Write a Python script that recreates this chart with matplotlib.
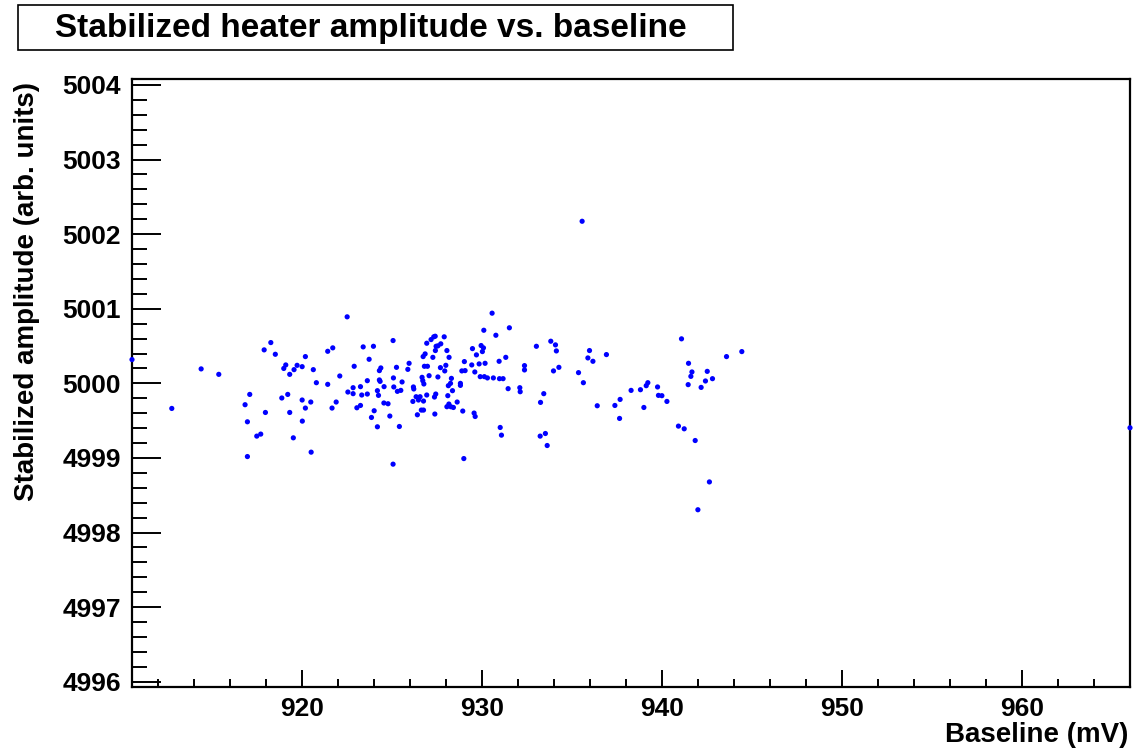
import matplotlib
matplotlib.use("Agg")
import matplotlib.pyplot as plt
from matplotlib.patches import Rectangle
from matplotlib.ticker import MultipleLocator

plt.rcParams['font.family'] = ['Liberation Sans', 'DejaVu Sans']
plt.rcParams['font.weight'] = 'bold'

title = "Stabilized heater amplitude vs. baseline"
xlabel = "Baseline (mV)"
ylabel = "Stabilized amplitude (arb. units)"

baseline = [
    910.57, 912.78, 914.41, 915.39, 916.85, 917.11, 916.98, 916.98, 917.50, 917.72,
    917.91, 918.28, 918.53, 917.98, 919.00, 919.11, 919.33, 919.57, 919.74, 920.02,
    920.20, 920.64, 920.81, 918.89, 919.22, 919.33, 920.02, 920.20, 920.50, 920.03,
    919.53, 920.52, 921.44, 921.72, 921.44, 922.11, 921.68, 921.91, 922.52, 922.56,
    922.91, 922.85, 922.85, 923.06, 923.26, 923.26, 923.33, 923.41, 923.64, 923.64,
    923.74, 923.98, 924.02, 923.87, 924.20, 924.20, 924.26, 924.31, 924.39, 924.31,
    924.35, 924.57, 924.56, 924.79, 924.89, 925.07, 925.07, 925.09, 925.11, 925.26,
    925.31, 925.50, 925.42, 925.57, 925.89, 925.96, 926.17, 926.20, 926.22, 926.35,
    926.42, 926.48, 926.57, 926.64, 926.76, 926.68, 926.72, 926.78, 926.76, 926.74,
    926.85, 926.81, 926.98, 926.94, 926.94, 927.07, 927.18, 927.33, 927.41, 927.28,
    927.37, 927.44, 927.39, 927.42, 927.46, 927.56, 927.72, 927.56, 927.70, 927.91,
    927.94, 928.00, 928.06, 928.18, 928.11, 928.06, 928.17, 928.28, 928.42, 928.14,
    928.26, 928.31, 928.37, 928.63, 928.81, 928.81, 928.94, 929.00, 928.89, 929.07,
    929.03, 929.48, 929.44, 929.57, 929.63, 929.61, 929.70, 929.85, 929.91, 929.96,
    930.09, 930.03, 930.11, 930.18, 930.14, 930.31, 930.57, 930.64, 930.78, 930.96,
    930.98, 931.18, 931.02, 931.09, 931.33, 931.46, 931.53, 932.11, 932.13, 932.37,
    932.37, 933.03, 933.26, 933.44, 933.24, 933.53, 933.63, 933.83, 934.09, 934.14,
    933.98, 934.28, 935.57, 935.98, 935.89, 936.17, 936.92, 935.37, 935.64, 936.41,
    937.39, 937.68, 937.65, 938.29, 938.81, 939.13, 939.22, 939.00, 939.76, 939.81,
    940.00, 940.28, 941.09, 941.48, 941.67, 941.61, 941.46, 942.52, 942.42, 942.81,
    942.18, 943.59, 944.44, 940.92, 941.24, 941.85, 942.64, 942.00, 966.00,
]

amplitude = [
    5000.319, 4999.664, 5000.194, 5000.121, 4999.714, 4999.852, 4999.485, 4999.019, 4999.293, 4999.320,
    5000.449, 5000.547, 5000.390, 4999.610, 5000.200, 5000.247, 5000.121, 5000.184, 5000.242, 5000.224,
    5000.359, 5000.184, 5000.009, 4999.804, 4999.852, 4999.610, 4999.777, 4999.669, 4999.750, 4999.494,
    4999.270, 4999.078, 5000.430, 5000.476, 4999.987, 5000.099, 4999.669, 4999.750, 5000.892, 4999.884,
    5000.229, 4999.942, 4999.862, 4999.673, 4999.704, 4999.956, 4999.844, 5000.489, 5000.036, 4999.857,
    5000.323, 5000.497, 4999.633, 4999.543, 4999.418, 4999.902, 4999.839, 5000.171, 5000.207, 5000.046,
    5000.027, 4999.956, 4999.737, 4999.727, 4999.562, 5000.574, 4998.917, 5000.073, 4999.952, 5000.215,
    4999.893, 4999.906, 4999.422, 5000.019, 5000.188, 5000.269, 4999.758, 4999.952, 4999.925, 4999.821,
    4999.579, 4999.777, 4999.821, 4999.642, 4999.642, 5000.081, 5000.036, 4999.992, 4999.763, 5000.359,
    5000.395, 5000.229, 5000.229, 5000.538, 4999.844, 5000.103, 5000.587, 5000.624, 5000.632, 5000.349,
    4999.817, 4999.857, 4999.589, 5000.440, 5000.497, 5000.503, 5000.530, 5000.086, 5000.211, 5000.624,
    5000.167, 5000.242, 5000.440, 5000.349, 4999.835, 4999.687, 4999.723, 4999.687, 4999.677, 4999.969,
    5000.000, 5000.067, 4999.902, 4999.750, 5000.000, 4999.973, 4999.629, 4998.992, 5000.167, 5000.171,
    5000.292, 5000.466, 5000.247, 4999.602, 4999.556, 5000.153, 5000.382, 5000.261, 5000.090, 5000.507,
    5000.476, 5000.426, 5000.712, 5000.269, 5000.090, 5000.073, 5000.941, 5000.073, 5000.645, 5000.296,
    5000.063, 5000.063, 4999.409, 4999.306, 5000.349, 4999.929, 5000.745, 4999.942, 4999.888, 5000.238,
    5000.180, 5000.497, 4999.745, 4999.862, 4999.293, 4999.328, 4999.167, 5000.565, 5000.516, 5000.435,
    5000.167, 5000.215, 5002.173, 5000.440, 5000.341, 5000.296, 5000.386, 5000.144, 5000.009, 4999.700,
    4999.704, 4999.785, 4999.530, 4999.906, 4999.915, 4999.969, 5000.009, 4999.677, 4999.952, 4999.839,
    4999.835, 4999.758, 5000.597, 5000.269, 5000.153, 5000.094, 4999.983, 5000.161, 5000.032, 5000.063,
    4999.946, 5000.359, 5000.426, 4999.427, 4999.391, 4999.234, 4998.679, 4998.306, 4999.405,
]

W, H = 1133, 751
fig = plt.figure(figsize=(W / 100, H / 100), dpi=100)
ax = fig.add_axes([132 / W, 1 - 687 / H, (1130 - 132) / W, (687 - 79) / H])

ax.scatter(baseline, amplitude, s=14, color='#0000ff', edgecolors='none', zorder=3, clip_on=False)

ax.set_xlim(910.57, 966.0)
ax.set_ylim(4995.93, 5004.08)

ax.xaxis.set_major_locator(MultipleLocator(10))
ax.xaxis.set_minor_locator(MultipleLocator(2))
ax.yaxis.set_major_locator(MultipleLocator(1))
ax.yaxis.set_minor_locator(MultipleLocator(0.2))
ax.ticklabel_format(useOffset=False)

ax.tick_params(axis='x', which='major', direction='in', length=12.5, width=1.4, pad=7, labelsize=19)
ax.tick_params(axis='x', which='minor', direction='in', length=6, width=1.4)
ax.tick_params(axis='y', which='major', direction='in', length=21, width=1.4, pad=8, labelsize=19)
ax.tick_params(axis='y', which='minor', direction='in', length=10.5, width=1.4)
for lab in ax.get_xticklabels() + ax.get_yticklabels():
    lab.set_fontweight('bold')

for sp in ax.spines.values():
    sp.set_linewidth(1.6)

fig.text(1128 / W, 1 - 735 / H, xlabel, ha='right', va='center', fontsize=20, fontweight='bold')
fig.text(27 / W, 1 - 82 / H, ylabel, ha='center', va='top', rotation=90, fontsize=20, fontweight='bold')

fig.patches.append(Rectangle((18 / W, 1 - 50 / H), (733 - 18) / W, 45 / H,
                             transform=fig.transFigure, facecolor='white', edgecolor='black', linewidth=1.2))
fig.text(371 / W, 1 - 28 / H, title, ha='center', va='center', fontsize=24, fontweight='bold')

fig.savefig('out.png', dpi=100)
